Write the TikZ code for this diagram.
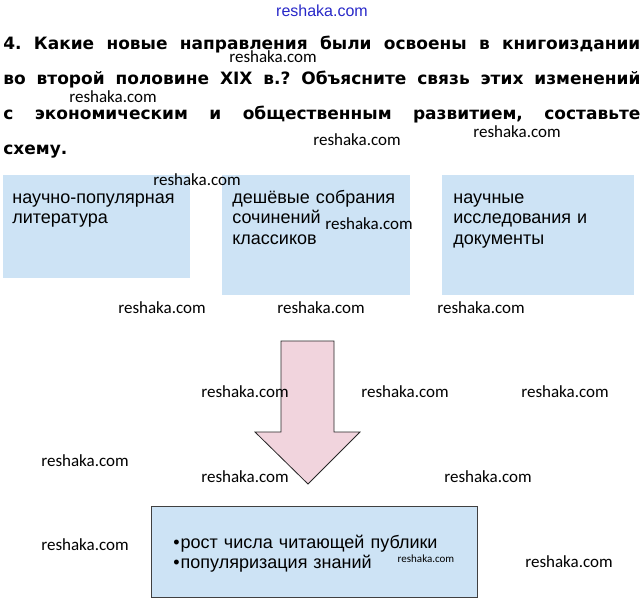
\documentclass[tikz,border=0pt]{standalone}
\usepackage{fontspec}
\setmainfont{Liberation Sans}
\newfontfamily\headfont{DejaVu Sans}
\newfontfamily\wmfont{Carlito}
\usetikzlibrary{positioning,calc}
\definecolor{boxblue}{RGB}{205,227,245}
\definecolor{arrowpink}{RGB}{241,212,221}
\definecolor{wmblue}{RGB}{40,40,200}
\tikzset{every picture/.style={line width=0.75pt}}
\tikzset{
  topbox/.style={fill=boxblue, inner sep=0pt, anchor=north west},
  boxtext/.style={inner sep=0pt, anchor=base west, align=left, text width=180pt,
    font=\fontsize{18}{20.5}\selectfont},
  wm/.style={inner sep=0pt, font=\wmfont\fontsize{17}{17}\selectfont},
}

\begin{document}
\begin{tikzpicture}[x=1pt, y=-1pt]
    \useasboundingbox (0,0) rectangle (644,604);
    % задание
    \node[inner sep=0pt, anchor=base west, text width=637pt, align=justify,
          font=\headfont\bfseries\fontsize{17}{35}\selectfont] (task) at (3,50)
      {\frenchspacing\hyphenpenalty=10000 4. Какие новые направления были освоены в книгоиздании\linebreak
       во второй половине XIX в.? Объясните связь этих изменений\linebreak
       с экономическим и общественным развитием, составьте\linebreak
       схему.};
    % три направления
    \node[topbox, minimum width=187pt, minimum height=103pt] (pop) at (3,175) {};
    \node[topbox, minimum width=188pt, minimum height=120pt] (cheap) at (222,175) {};
    \node[topbox, minimum width=192pt, minimum height=120pt] (sci) at (442,175) {};
    \node[boxtext] (popt) at ($(pop.north west)+(9,28)$) {научно-популярная\\литература};
    \node[boxtext] (cheapt) at ($(cheap.north west)+(10,28)$) {дешёвые собрания\\сочинений\\классиков};
    \node[boxtext] (scit) at ($(sci.north west)+(11,28)$) {научные\\исследования и\\документы};
    % стрелка
    \draw[fill=arrowpink, draw=black!85, line width=0.8pt, line join=miter]
      (281,341) -- (334,341) -- (334,432) -- (360,432) -- (308,484)
      -- (255,432) -- (281,432) -- cycle;
    % итог
    \node[fill=boxblue, draw=black!75, line width=1.3pt, inner sep=0pt,
          minimum width=326pt, minimum height=91pt, anchor=north west] (res) at (151,506) {};
    \node[boxtext, text width=290pt] (rest) at ($(res.north west)+(22,42)$)
      {\kern0pt•\kern1pt рост числа читающей публики\\\kern0pt•\kern1pt популяризация знаний};
    % водяные знаки
    \node[wm, text=wmblue, font=\fontsize{16}{16}\selectfont] (wm0) at (322,11) {reshaka.com};
    \foreach \px/\py [count=\i] in {273/57, 113/97, 357/140, 517/132, 197/180, 369/224,
        162/308, 321/308, 481/308, 245/392, 405/392, 565/392, 85/461, 245/477,
        488/477, 85/545, 569/562}
      \node[wm] (wm\i) at (\px,\py) {reshaka.com};
    \node[wm, font=\wmfont\fontsize{11}{11}\selectfont] (wmsmall) at (426,559) {reshaka.com};
\end{tikzpicture}
\end{document}
